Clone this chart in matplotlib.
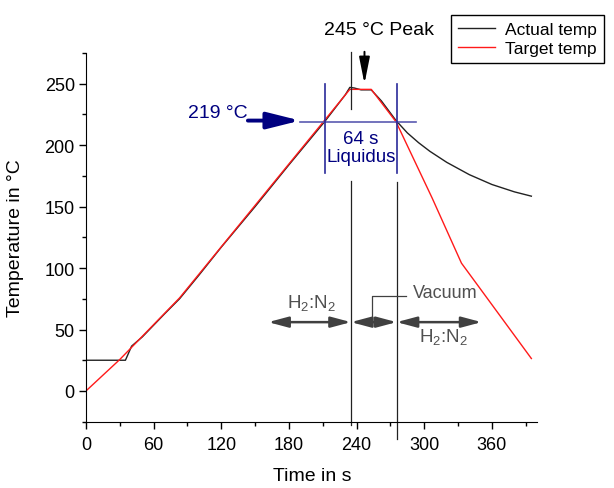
import matplotlib
matplotlib.use("Agg")
import matplotlib.pyplot as plt

plt.rcParams['font.family'] = ['Liberation Sans', 'DejaVu Sans']
plt.rcParams['mathtext.fontset'] = 'custom'
plt.rcParams['mathtext.rm'] = 'Liberation Sans'
plt.rcParams['mathtext.it'] = 'Liberation Sans'

# Target (set) profile
time_target = [0, 30, 83, 234, 253, 275, 307, 333, 349, 395]
temp_target = [0, 25.6, 75.7, 245.4, 245.4, 219, 157, 104, 84, 26.4]

# Measured profile
time_actual = [0, 35, 40.5, 50, 60, 70, 83, 100, 120, 150, 180, 212, 230, 234,
               238, 244, 253, 262, 275, 285, 295, 305, 320, 340, 360, 380, 395]
temp_actual = [25, 25, 36.5, 44, 53.5, 63, 75, 94, 117, 150, 184, 219.5, 241, 247,
               246.5, 245, 245, 236, 220, 210, 202, 195, 186, 176, 168, 162, 158.5]

x_ticks = [0, 60, 120, 180, 240, 300, 360]
y_ticks = [0, 50, 100, 150, 200, 250]

liquidus = 219
t_liq_start, t_liq_end = 212, 275.5
t_peak_line = 235
t_peak_arrow = 247

fig = plt.figure(figsize=(6.14, 4.89), dpi=100)
ax = fig.add_axes([0.140, 0.1356, 0.7346, 0.754])

ax.plot(time_actual, temp_actual, color='#222222', lw=1.0, label='Actual temp')
ax.plot(time_target, temp_target, color='#ff1a1a', lw=1.0, label='Target temp')

ax.set_xlim(0, 400)
ax.set_ylim(-25, 275)
ax.set_xticks(x_ticks)
ax.set_yticks(y_ticks)
ax.set_xticks(range(30, 400, 60), minor=True)
ax.set_yticks(range(-25, 276, 50), minor=True)
ax.spines['top'].set_visible(False)
ax.spines['right'].set_visible(False)
ax.tick_params(which='major', direction='out', length=5, width=1, labelsize=13)
ax.tick_params(which='minor', direction='out', length=3, width=1)
ax.tick_params(axis='x', pad=5)
ax.tick_params(axis='y', pad=3)

fig.text(312 / 614, 1 - 477 / 489, 'Time in s', ha='center', va='center', fontsize=14)
fig.text(16 / 614, 1 - 238 / 489, 'Temperature in °C', ha='center', va='center',
         rotation=90, fontsize=14)

# black marker lines (peak / liquidus end)
ax.plot([t_peak_line, t_peak_line], [276, 229.5], color='#222222', lw=0.9, clip_on=False)
ax.plot([t_peak_line, t_peak_line], [171, -28], color='#222222', lw=0.9, clip_on=False)
ax.plot([t_liq_end, t_liq_end], [170, -39], color='#222222', lw=0.9, clip_on=False)

# liquidus window
ax.plot([190, 293], [liquidus, liquidus], color='#5a5ab0', lw=1.2)
for t in (t_liq_start, t_liq_end):
    ax.plot([t, t], [250, 177], color='#2a2a9a', lw=1.2)
ax.text(244, 198, '64 s\nLiquidus', color='#000080', fontsize=13.5, ha='center',
        va='center', linespacing=1.1)

ax.annotate('', xy=(190, 220), xytext=(143.6, 220),
            arrowprops=dict(arrowstyle='-|>,head_length=1.0,head_width=0.25',
                            mutation_scale=20, lw=2.8, color='#000080',
                            shrinkA=0, shrinkB=0))
ax.text(143, 226.5, '219 °C', color='#000080', fontsize=14, ha='right', va='center')

# peak
ax.annotate('', xy=(t_peak_arrow, 250), xytext=(t_peak_arrow, 276),
            annotation_clip=False,
            arrowprops=dict(arrowstyle='-|>,head_length=0.8,head_width=0.16',
                            mutation_scale=20, lw=1.4, color='black',
                            shrinkA=0, shrinkB=0))
ax.text(260, 294.5, '245 °C Peak', fontsize=14, ha='center', va='center',
        clip_on=False)

# atmosphere arrows
gas = '#404040'
arrow_y = 56
for a, b in [(161.6, t_peak_line), (t_peak_line, t_liq_end), (t_liq_end, 350.8)]:
    ax.annotate('', xy=(b, arrow_y), xytext=(a, arrow_y),
                arrowprops=dict(arrowstyle='<|-|>,head_length=0.6,head_width=0.16',
                                mutation_scale=20, lw=1.8, color=gas,
                                shrinkA=0, shrinkB=0))
ax.plot([253.4, 253.4, 284.2], [arrow_y, 77, 77], color=gas, lw=0.9)
ax.text(289.6, 80.5, 'Vacuum', color='#505050', fontsize=13, ha='left', va='center')
ax.text(200, 68, r'H$_2$:N$_2$', color='#505050', fontsize=13.5, ha='center', va='baseline')
ax.text(317.4, 41, r'H$_2$:N$_2$', color='#505050', fontsize=13.5, ha='center', va='baseline')

leg = fig.legend(loc='upper right', bbox_to_anchor=(0.998, 0.986), fontsize=12.5,
                 frameon=True, fancybox=False, edgecolor='black', framealpha=1,
                 handlelength=2.1, borderpad=0.4, labelspacing=0.25, handletextpad=0.6)
leg.get_frame().set_linewidth(1.0)

fig.savefig('out.png', dpi=100)
